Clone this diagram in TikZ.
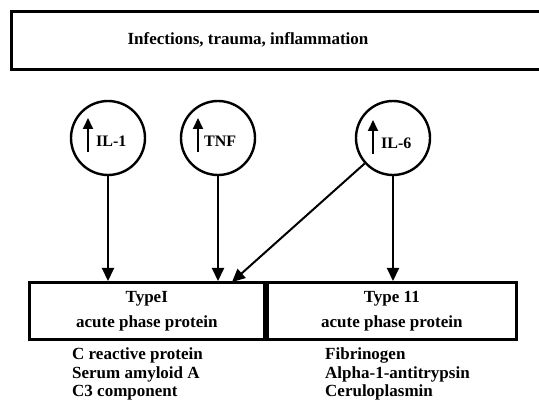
\documentclass[tikz,border=0pt]{standalone}
\usepackage{fontspec}
\setmainfont{Liberation Serif}
\usetikzlibrary{arrows.meta}
\begin{document}
\begin{tikzpicture}[x=1pt,y=-1pt,
  box/.style={draw,line width=2.6pt,inner sep=0pt},
  cyto/.style={draw,circle,line width=2.4pt,minimum size=74pt,inner sep=0pt},
  conn/.style={line width=2pt,-{Triangle[length=13pt,width=12pt]}},
  uparrow/.style={line width=2pt,-{Triangle[length=11pt,width=10pt]}},
  lbl/.style={font=\bfseries\fontsize{16}{18}\selectfont},
  lst/.style={font=\bfseries\fontsize{17}{18.5}\selectfont,align=left,anchor=north west,inner sep=0pt}]
\useasboundingbox (0,0) rectangle (539,409);
\node[box,minimum width=540pt,minimum height=58pt,anchor=north west] (top) at (10,10) {};
\node[font=\bfseries\fontsize{17}{18}\selectfont] (toptext) at (248,40) {Infections, trauma, inflammation};
\node[cyto] (il1) at (108,138) {};
\node[cyto] (tnf) at (218,138) {};
\node[cyto] (il6) at (393,138) {};
\coordinate (a1) at (88,152); \coordinate (a1e) at (88,118);
\coordinate (a2) at (198,152); \coordinate (a2e) at (198,118);
\coordinate (a3) at (373,154); \coordinate (a3e) at (373,120);
\draw[uparrow] (a1) -- (a1e);
\draw[uparrow] (a2) -- (a2e);
\draw[uparrow] (a3) -- (a3e);
\node[lbl,anchor=west,inner sep=0pt] (t1) at (96,141) {IL-1};
\node[lbl,anchor=west,inner sep=0pt] (t2) at (204,141) {TNF};
\node[lbl,anchor=west,inner sep=0pt] (t3) at (381,143) {IL-6};
\node[box,minimum width=235pt,minimum height=57pt,anchor=north west] (type1) at (28,281) {};
\node[box,minimum width=249pt,minimum height=57pt,anchor=north west] (type2) at (266,281) {};
\node[align=center,font=\bfseries\fontsize{17}{25}\selectfont] (l1) at (type1.center) {TypeI\\acute phase protein};
\node[align=center,font=\bfseries\fontsize{17}{25}\selectfont] (l2) at (type2.center) {Type 11\\acute phase protein};
\draw[conn] (il1.south) -- (il1.south |- type1.north);
\draw[conn] (tnf.south) -- (tnf.south |- type1.north);
\draw[conn] (il6.south) -- (il6.south |- type2.north);
\coordinate (dend) at (232,282);
\draw[conn] (il6.222) -- (dend);
\node[lst] (list1) at (72,348) {C reactive protein\\Serum amyloid A\\C3 component};
\node[lst] (list2) at (325,348) {Fibrinogen\\Alpha-1-antitrypsin\\Ceruloplasmin};
\end{tikzpicture}
\end{document}
